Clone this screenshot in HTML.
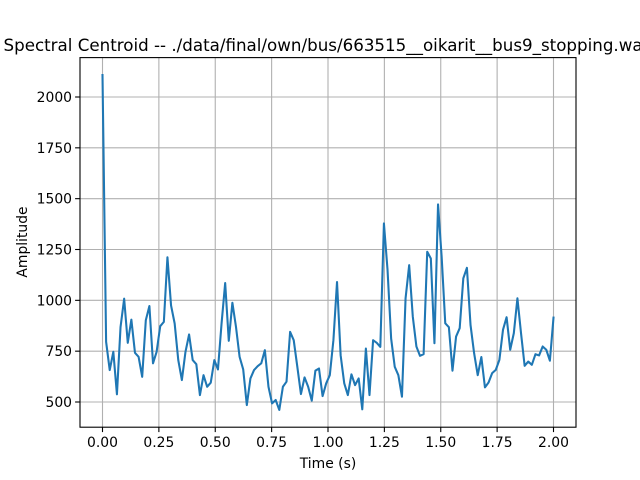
<!DOCTYPE html>
<html><head><meta charset="utf-8"><style>
html,body{margin:0;padding:0;background:#fff;overflow:hidden}
svg{display:block;font-family:"DejaVu Sans","Liberation Sans",sans-serif}
</style></head><body>
<svg id="chart" width="640" height="480" xmlns="http://www.w3.org/2000/svg">
<rect width="640" height="480" fill="#fff"/>
<text x="328" y="51" font-size="16.7" text-anchor="middle" fill="#000">Spectral Centroid -- ./data/final/own/bus/663515__oikarit__bus9_stopping.wav</text>
<g id="grid"></g>
<g id="ticks"></g>
<polyline id="line" fill="none" stroke="#1f77b4" stroke-width="2.08" stroke-linejoin="round" stroke-linecap="square"/>
<rect x="80" y="57.6" width="496" height="369.6" fill="none" stroke="#000" stroke-width="1.1"/>
<text x="328" y="468" font-size="13.9" text-anchor="middle">Time (s)</text>
<text x="0" y="0" font-size="13.9" text-anchor="middle" transform="translate(27,242) rotate(-90)">Amplitude</text>
</svg>
<script>
const values = [2108,796,657,747,538,869,1008,791,905,742,722,624,902,972,690,747,873,894,1212,975,886,706,608,747,832,706,686,534,632,575,595,706,660,886,1085,801,988,869,722,660,485,616,657,676,690,755,575,493,510,461,575,600,845,804,673,539,621,575,507,654,665,529,592,632,804,1090,730,592,534,636,583,616,464,763,534,804,791,771,1378,1150,812,673,632,526,1010,1173,920,773,727,735,1239,1206,789,1472,1214,887,868,654,822,863,1108,1160,879,740,632,721,572,596,642,658,707,855,917,757,838,1010,838,678,699,683,735,729,773,757,703,915];
const duration = 2.0;
const xTicks = [0,0.25,0.5,0.75,1.0,1.25,1.5,1.75,2.0];
const xTickLabels = ["0.00","0.25","0.50","0.75","1.00","1.25","1.50","1.75","2.00"];
const yTicks = [500,750,1000,1250,1500,1750,2000];
const yTickLabels = ["500","750","1000","1250","1500","1750","2000"];
const NS="http://www.w3.org/2000/svg";
const X0=80,X1=576,Y0=57.6,Y1=427.2;
const xs=t=>102.5+(t/2)*451;
const ys=v=>402-(v-500)*(305/1500);
const grid=document.getElementById('grid'),ticks=document.getElementById('ticks');
function mk(tag,a,parent){const e=document.createElementNS(NS,tag);for(const k in a)e.setAttribute(k,a[k]);parent.appendChild(e);return e;}
xTicks.forEach((t,i)=>{const x=xs(t);
 const g=mk('line',{x1:x,x2:x,y1:Y0,y2:Y1,stroke:'#b0b0b0','stroke-width':1.1},grid);
 
 
 const tk=mk('line',{x1:x,x2:x,y1:Y1,y2:Y1+4.9,stroke:'#000','stroke-width':1.1},ticks);
 
 
 const tx=mk('text',{x:x,y:Y1+20,'font-size':13.9,'text-anchor':'middle'},ticks);tx.textContent=xTickLabels[i];
 
 
});
yTicks.forEach((v,i)=>{const y=ys(v);
 const g=mk('line',{x1:X0,x2:X1,y1:y,y2:y,stroke:'#b0b0b0','stroke-width':1.1},grid);
 
 
 const tk=mk('line',{x1:X0-4.9,x2:X0,y1:y,y2:y,stroke:'#000','stroke-width':1.1},ticks);
 
 
 const tx=mk('text',{x:X0-8,y:y+5,'font-size':13.9,'text-anchor':'end'},ticks);tx.textContent=yTickLabels[i];
 
 
});
const n=values.length;
document.getElementById('line').setAttribute('points',values.map((v,i)=>xs(i*duration/(n-1)).toFixed(2)+','+ys(v).toFixed(2)).join(' '));
</script>
</body></html>
